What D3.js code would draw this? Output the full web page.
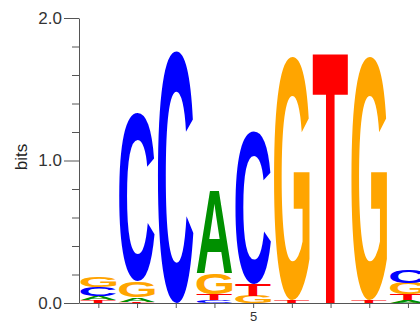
<!DOCTYPE html>
<html>
<head>
<meta charset="utf-8">
<script src="https://cdn.jsdelivr.net/npm/d3@7"></script>
<style>
  body { margin: 0; background: #fff; }
  svg { display: block; }
  text { font-family: "Liberation Sans", Arial, sans-serif; }
</style>
</head>
<body>
<div id="chart"></div>
<script>
// Positions 1..9, information (bits) per base
const positions = [1, 2, 3, 4, 5, 6, 7, 8, 9]
const bitsA = [0.03, 0.03, 0.00, 0.58, 0.00, 0.00, 0.00, 0.00, 0.02]
const bitsC = [0.06, 1.18, 1.77, 0.02, 1.07, 0.00, 0.00, 0.00, 0.09]
const bitsG = [0.07, 0.11, 0.00, 0.15, 0.05, 1.71, 0.00, 1.71, 0.08]
const bitsT = [0.02, 0.01, 0.00, 0.04, 0.085, 0.02, 1.775, 0.02, 0.04]
const majorTicks = [0, 1, 2]
const minorTicks = [0.2, 0.4, 0.6, 0.8, 1.2, 1.4, 1.6, 1.8]

const colors = { A: "#009000", C: "#0000ff", G: "#ffa500", T: "#ff0000" }

const width = 420
const height = 325
const left = 79
const colW = 38.7
const glyphFont = "bold 100px 'Liberation Sans', Arial, sans-serif"

const x = d3.scaleLinear().domain([0.5, 9.5]).range([left, left + 9 * colW])
const y = d3.scaleLinear().domain([0, 2]).range([303, 18])

const svg = d3.select("#chart").append("svg")
  .attr("width", width)
  .attr("height", height)

// ink bounds of each glyph, measured once on a canvas
const ctx = document.createElement("canvas").getContext("2d")
ctx.font = glyphFont
const ink = {}
"ACGT".split("").forEach(b => {
  const m = ctx.measureText(b)
  ink[b] = {
    left: -m.actualBoundingBoxLeft,
    w: m.actualBoundingBoxLeft + m.actualBoundingBoxRight,
    top: -m.actualBoundingBoxAscent,
    h: m.actualBoundingBoxAscent + m.actualBoundingBoxDescent
  }
})

// letter stacks
const letters = svg.append("g")
positions.forEach((p, i) => {
  const stack = [
    { base: "A", v: bitsA[i] },
    { base: "C", v: bitsC[i] },
    { base: "G", v: bitsG[i] },
    { base: "T", v: bitsT[i] }
  ].filter(d => d.v > 0).sort((a, b) => a.v - b.v)

  let acc = 0
  stack.forEach(d => {
    const y0 = y(acc + d.v)
    const y1 = y(acc)
    acc += d.v
    const x0 = x(p - 0.5) + 1.5
    const x1 = x(p + 0.5) - 1.5
    const g = ink[d.base]
    const sx = (x1 - x0) / g.w
    const sy = (y1 - y0) / g.h
    letters.append("text")
      .style("font", glyphFont)
      .attr("fill", colors[d.base])
      .attr("transform", `translate(${x0},${y0}) scale(${sx},${sy}) translate(${-g.left},${-g.top})`)
      .text(d.base)
  })
})

// y axis
const yAxisMajor = d3.axisLeft(y).tickValues(majorTicks).tickSize(15).tickSizeOuter(0)
  .tickPadding(2).tickFormat(d3.format(".1f"))
const yAxisMinor = d3.axisLeft(y).tickValues(minorTicks).tickSize(7).tickSizeOuter(0)
  .tickFormat("")

const gy = svg.append("g").attr("transform", `translate(${left},0)`).call(yAxisMajor)
svg.append("g").attr("transform", `translate(${left},0)`).call(yAxisMinor)
  .select(".domain").remove()

// x axis
const xAxis = d3.axisBottom(x).tickValues(positions).tickSize(5).tickSizeOuter(0)
  .tickPadding(4).tickFormat(d => d === 5 ? "5" : "")
const gx = svg.append("g").attr("transform", `translate(0,${y(0)})`).call(xAxis)

svg.selectAll(".domain, .tick line").attr("stroke", "#555")
svg.selectAll(".tick text").attr("fill", "#333")
gy.selectAll(".tick text").attr("font-size", 17)
gx.selectAll(".tick text").attr("font-size", 13)

svg.append("text")
  .attr("transform", `translate(27,157) rotate(-90)`)
  .attr("text-anchor", "middle")
  .attr("font-size", 17)
  .attr("fill", "#222")
  .text("bits")
</script>
</body>
</html>
